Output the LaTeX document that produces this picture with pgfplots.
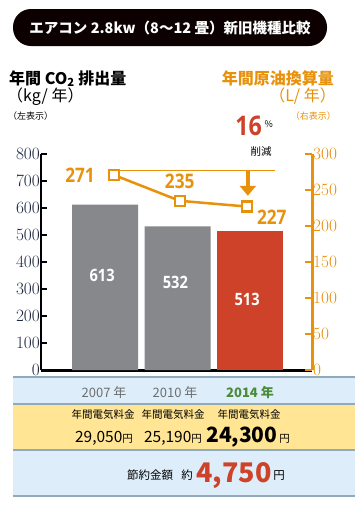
\documentclass[border=0pt]{standalone}
\usepackage{fontspec}
\usepackage{pgfplots}
\pgfplotsset{compat=1.18}
\usetikzlibrary{arrows.meta}
\setmainfont{Noto Sans CJK JP}
\newfontfamily\numf[FakeStretch=0.76]{Open Sans}
\newfontfamily\numb[FakeStretch=0.86]{Open Sans}
\newcommand\fs[1]{\fontsize{#1}{#1}\selectfont}
\definecolor{org}{HTML}{E8910A}
\definecolor{barg}{HTML}{87888B}
\definecolor{barr}{HTML}{CE4229}
\definecolor{navy}{HTML}{1C2541}
\definecolor{grn}{HTML}{4A8B3A}
\definecolor{lblue}{HTML}{DDEEFA}
\definecolor{ylw}{HTML}{FFE594}
\definecolor{sep}{HTML}{8EAABB}
\definecolor{yeargray}{HTML}{6D6E70}
\begin{document}
\begin{tikzpicture}[tight/.style={text height=0.8em, text depth=0.12em, inner sep=0}]
\fill[white] (0pt,0pt) rectangle (355pt,-509pt);
\useasboundingbox (0pt,0pt) rectangle (355pt,-509pt);
\begin{scope}[x=1pt,y=-1pt]
  % title
  \fill[black!95!red, rounded corners=18pt] (13,9) rectangle (327,46);
  \node[text=white, font=\bfseries\fs{14.5}] at (170,28) {エアコン 2.8kw（8〜12 畳）新旧機種比較};
  % axis titles
  \node[anchor=west, font=\bfseries\fs{16}, tight] at (9,81) {年間 CO\textsubscript{2} 排出量};
  \node[anchor=west, font=\fs{16}, tight] at (7,98.5) {（kg/ 年）};
  \node[anchor=west, font=\fs{9}, tight] at (8,116) {（左表示）};
  \node[anchor=east, font=\bfseries\fs{16}, text=org, tight] at (334,81) {年間原油換算量};
  \node[anchor=east, font=\fs{16}, text=org, tight] at (336,98.5) {（L/ 年）};
  \node[anchor=east, font=\fs{9}, text=org, tight] at (336,116) {（右表示）};
  % 16% label
  \node[anchor=base east, font=\numb\bfseries\fs{27}, text=barr, inner sep=0] at (262,135.5) {16};
  \node[anchor=base west, font=\fs{9}, inner sep=0] at (264.5,127) {\%};
  \node[font=\fs{10.5}, tight] at (261,152) {削減};
  % bottom panel
  \fill[lblue] (13,377) rectangle (355,404);
  \fill[ylw] (13,404) rectangle (355,450);
  \fill[lblue] (13,450) rectangle (355,496);
  \draw[sep, line width=2pt] (13,377) -- (355,377);
  \draw[sep, line width=2pt] (13,404) -- (355,404);
  \draw[sep, line width=2pt] (13,450) -- (355,450);
  \draw[sep, line width=2pt] (13,496) -- (355,496);
  \node[font=\fs{13}, text=yeargray] at (104,393) {2007 年};
  \node[font=\fs{13}, text=yeargray] at (175,393) {2010 年};
  \node[font=\bfseries\fs{13}, text=grn] at (250,393) {2014 年};
  \node[font=\fs{10.5}, tight] at (103,415) {年間電気料金};
  \node[font=\fs{10.5}, tight] at (173,415) {年間電気料金};
  \node[font=\fs{10.5}, tight] at (249,415) {年間電気料金};
  \node[anchor=base, font=\fs{15.5}, inner sep=0] at (104,442) {29,050{\fs{10.5}円}};
  \node[anchor=base, font=\fs{15.5}, inner sep=0] at (173,442) {25,190{\fs{10.5}円}};
  \node[anchor=base, font=\bfseries\fs{21}, inner sep=0] at (248,442) {24,300{\mdseries\fs{10.5}\,円}};
  \node[anchor=base, font=\fs{11.5}, inner sep=0] at (150,479) {節約金額};
  \node[anchor=base, font=\fs{11.5}, inner sep=0] at (187,479) {約};
  \node[anchor=base, font=\bfseries\fs{27}, text=barr, inner sep=0] at (234,482) {4,750};
  \node[anchor=base, font=\fs{11.5}, inner sep=0] at (279,479) {円};
\end{scope}

\begin{axis}[
  at={(41pt,-370pt)}, anchor=south west,
  scale only axis, width=271pt, height=216pt,
  xmin=-0.883, xmax=2.855, ymin=0, ymax=800,
  axis x line*=bottom, axis y line*=left,
  xtick=\empty, ytick={0,100,...,800},
  tick align=inside, major tick length=6pt,
  tick style={black, line width=1.8pt},
  x axis line style={line width=3pt, black},
  y axis line style={line width=2.5pt, black},
  yticklabel style={font=\numf\fs{17}, text=navy, inner sep=1pt},
  clip=false,
]
\addplot[ybar, bar width=66pt, bar shift=0pt, fill=barg, draw=none] coordinates {(0,613) (1,532)};
\addplot[ybar, bar width=66pt, bar shift=0pt, fill=barr, draw=none] coordinates {(2,513)};
\node[text=white, font=\numb\bfseries\fs{17}] at (axis cs:-0.04,352) {613};
\node[text=white, font=\numb\bfseries\fs{17}] at (axis cs:0.97,326) {532};
\node[text=white, font=\numb\bfseries\fs{17}] at (axis cs:1.96,263) {513};
\end{axis}

\begin{axis}[
  at={(41pt,-370pt)}, anchor=south west,
  scale only axis, width=271pt, height=216pt,
  xmin=-0.883, xmax=2.855, ymin=0, ymax=300,
  axis y line*=right, axis x line=none,
  ytick={0,50,...,300},
  tick align=inside, major tick length=7pt,
  tick style={org, line width=2pt},
  y axis line style={line width=3pt, org},
  yticklabel style={font=\numf\fs{17}, text=org, inner sep=1pt},
  clip=false,
]
\addplot[org, line width=1pt] coordinates {(0.07,276.5) (2.34,276.5)};
\addplot[org, line width=2.5pt, mark=square*, mark size=5pt, mark options={fill=white, line width=2.2pt}] coordinates {(0.12,271) (1.03,235) (1.96,227)};
\draw[org, line width=4.5pt, -{Triangle[width=16pt,length=10pt]}] (axis cs:1.97,276.5) -- (axis cs:1.97,242);
\node[text=org, font=\numb\bfseries\fs{20}] at (axis cs:-0.345,271) {271};
\node[text=org, font=\numb\bfseries\fs{20}] at (axis cs:1.03,262) {235};
\node[text=org, font=\numb\bfseries\fs{20}] at (axis cs:2.30,212) {227};
\end{axis}
\end{tikzpicture}
\end{document}
